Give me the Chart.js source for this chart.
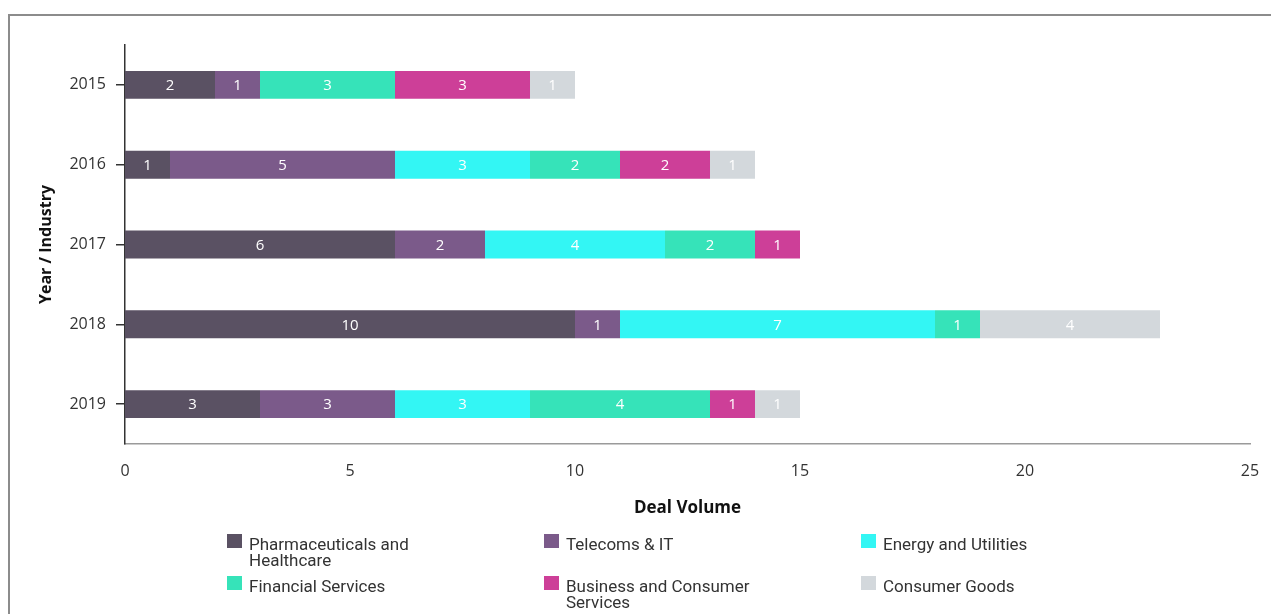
<!DOCTYPE html>
<html>
<head>
<meta charset="utf-8">
<script src="https://cdn.jsdelivr.net/npm/chart.js@4.4.1/dist/chart.umd.min.js"></script>
<style>
  html, body { margin: 0; padding: 0; background: #fff; overflow: hidden; }
  #frame { position: absolute; left: 8px; top: 14px; width: 1400px; height: 800px; border-top: 2px solid #8c8c8c; border-left: 2px solid #8c8c8c; }
  #wrap { position: absolute; left: 0; top: 0; width: 1271px; height: 614px; }
  .lg { position: absolute; font-family: Roboto, "Open Sans", sans-serif; font-size: 17px; line-height: 16px; color: #333; }
  .lg .box { position: absolute; left: 0; top: 0; width: 15px; height: 14px; }
  .lg .txt { position: absolute; left: 22px; top: 2px; width: 260px; }
</style>
</head>
<body>
<div id="frame"></div>
<div id="wrap"><canvas id="c" width="1271" height="614"></canvas></div>
<div id="legend"></div>
<script>
const years = ['2015', '2016', '2017', '2018', '2019'];
const industries = ['Pharmaceuticals and Healthcare', 'Telecoms & IT', 'Energy and Utilities', 'Financial Services', 'Business and Consumer Services', 'Consumer Goods'];
const legendLines = [['Pharmaceuticals and', 'Healthcare'], ['Telecoms & IT'], ['Energy and Utilities'], ['Financial Services'], ['Business and Consumer', 'Services'], ['Consumer Goods']];
const colors = ['#5a5163', '#7b5a8a', '#33f6f4', '#36e3b9', '#cd3f98', '#d3d8dc'];
const pharma = [2, 1, 6, 10, 3];
const telecoms = [1, 5, 2, 1, 3];
const energy = [0, 3, 4, 7, 3];
const financial = [3, 2, 2, 1, 4];
const business = [3, 2, 1, 0, 1];
const consumer = [1, 1, 0, 4, 1];
const xTicks = [0, 5, 10, 15, 20, 25];

const seriesValues = [pharma, telecoms, energy, financial, business, consumer];

const valueLabels = {
  id: 'valueLabels',
  afterDatasetsDraw(chart) {
    const ctx = chart.ctx;
    ctx.save();
    ctx.font = '500 15px "Open Sans", sans-serif';
    ctx.fillStyle = '#ffffff';
    ctx.textAlign = 'center';
    ctx.textBaseline = 'middle';
    chart.data.datasets.forEach((ds, i) => {
      const meta = chart.getDatasetMeta(i);
      meta.data.forEach((el, j) => {
        const v = ds.data[j];
        if (!v) return;
        const p = el.getCenterPoint();
        ctx.fillText(String(v), p.x, p.y + 1);
      });
    });
    ctx.restore();
  }
};

new Chart(document.getElementById('c'), {
  type: 'bar',
  data: {
    labels: years,
    datasets: industries.map((name, i) => ({
      label: name,
      data: seriesValues[i],
      backgroundColor: colors[i],
      borderWidth: 0,
      categoryPercentage: 1,
      barPercentage: 0.35
    }))
  },
  options: {
    indexAxis: 'y',
    responsive: false,
    animation: false,
    devicePixelRatio: 1,
    layout: { padding: { top: 45, left: 37, right: 21, bottom: 95 } },
    plugins: { legend: { display: false }, tooltip: { enabled: false } },
    scales: {
      x: {
        stacked: true,
        min: 0, max: 25,
        afterBuildTicks(scale) { scale.ticks = xTicks.map(v => ({ value: v })); },
        afterFit(scale) { scale.height = 75; scale.paddingRight = 0; scale.paddingLeft = 0; },
        grid: { display: false, drawTicks: false },
        border: { display: true, color: '#9a9a9a', width: 1.5 },
        ticks: { padding: 18, color: '#333', font: { family: 'Open Sans', size: 16 } },
        title: { display: true, text: 'Deal Volume', color: '#111', font: { family: 'Open Sans', size: 17, weight: 'bold' }, padding: { top: 0, bottom: 1 } }
      },
      y: {
        stacked: true,
        afterFit(scale) { scale.width = 88; },
        grid: { display: true, drawOnChartArea: false, drawTicks: true, tickLength: 9, offset: false, color: '#333', lineWidth: 1.5 },
        border: { display: true, color: '#333', width: 1.5 },
        ticks: { padding: 10, color: '#333', font: { family: 'Open Sans', size: 16 } },
        title: { display: true, text: 'Year / Industry', color: '#111', font: { family: 'Open Sans', size: 16, weight: 'bold' }, padding: { top: 0, bottom: 0 } }
      }
    }
  },
  plugins: [valueLabels]
});

// legend (HTML)
const legendPos = [[227, 534], [544, 534], [861, 534], [227, 576], [544, 576], [861, 576]];
const lg = document.getElementById('legend');
industries.forEach((name, i) => {
  const d = document.createElement('div');
  d.className = 'lg';
  d.style.left = legendPos[i][0] + 'px';
  d.style.top = legendPos[i][1] + 'px';
  const b = document.createElement('div');
  b.className = 'box';
  b.style.background = colors[i];
  const t = document.createElement('div');
  t.className = 'txt';
  t.innerHTML = legendLines[i].join('<br>');
  d.appendChild(b); d.appendChild(t);
  lg.appendChild(d);
});
</script>
</body>
</html>
